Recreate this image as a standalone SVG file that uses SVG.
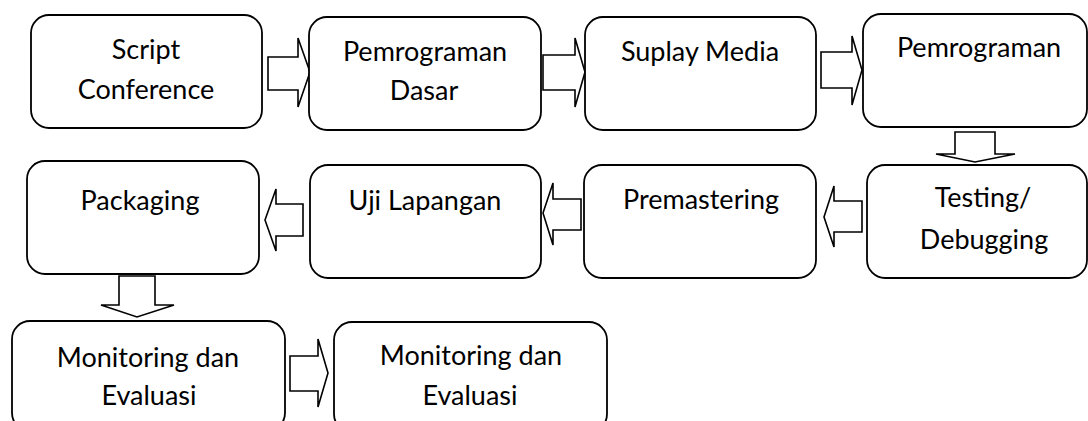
<svg xmlns="http://www.w3.org/2000/svg" width="1088" height="421" viewBox="0 0 1088 421">
<style>
.box{fill:#fff;stroke:#000;stroke-width:1.8}
.arr{fill:#fff;stroke:#000;stroke-width:1.6;stroke-linejoin:miter}
.t{font-family:Lato,"Liberation Sans",sans-serif;font-size:27px;fill:#000;text-anchor:middle}
</style>
<rect width="1088" height="421" fill="#fff"/>
<g id="connectors">
<polygon class="arr" points="268,57 298,57 298,38 310,72 298,107 298,90 268,90"/>
<polygon class="arr" points="543,55 575,55 575,38 585,72 575,107 575,90 543,90"/>
<polygon class="arr" points="821,52 852,52 852,36 862,70 852,105 852,88 821,88"/>
<polygon class="arr" points="955,132 995,132 995,154 1015,154 975,162 936,154 955,154"/>
<polygon class="arr" points="862,201 834,201 834,186 824,217 834,247 834,232 862,232"/>
<polygon class="arr" points="581,199 553,199 553,183 543,213 553,245 553,230 581,230"/>
<polygon class="arr" points="303,204 276,204 276,189 265,220 276,251 276,236 303,236"/>
<polygon class="arr" points="119,276 155,276 155,305 174,305 137,317 101,305 119,305"/>
<polygon class="arr" points="290,356 318,356 318,339 328,373 318,407 318,391 290,391"/>
</g>
<g id="n1"><rect class="box" x="31" y="15" width="231" height="113" rx="18"/><text class="t" x="146" y="59">Script</text><text class="t" x="146" y="99">Conference</text></g>
<g id="n2"><rect class="box" x="309" y="17" width="232" height="113" rx="18"/><text class="t" x="425" y="61">Pemrograman</text><text class="t" x="424" y="100">Dasar</text></g>
<g id="n3"><rect class="box" x="585" y="17" width="231" height="113" rx="18"/><text class="t" x="700" y="61">Suplay Media</text></g>
<g id="n4"><rect class="box" x="863" y="14" width="224" height="113" rx="18"/><text class="t" x="979" y="57">Pemrograman</text></g>
<g id="n5"><rect class="box" x="867" y="165" width="220" height="113" rx="18"/><text class="t" x="983" y="207">Testing/</text><text class="t" x="984" y="249">Debugging</text></g>
<g id="n6"><rect class="box" x="584" y="165" width="232" height="113" rx="18"/><text class="t" x="701" y="209">Premastering</text></g>
<g id="n7"><rect class="box" x="310" y="165" width="231" height="113" rx="18"/><text class="t" x="425" y="210">Uji Lapangan</text></g>
<g id="n8"><rect class="box" x="27" y="161" width="232" height="113" rx="18"/><text class="t" x="140" y="210">Packaging</text></g>
<g id="n9"><rect class="box" x="12" y="321" width="273" height="110" rx="18"/><text class="t" x="148" y="367">Monitoring dan</text><text class="t" x="149" y="405">Evaluasi</text></g>
<g id="n10"><rect class="box" x="334" y="322" width="273" height="110" rx="18"/><text class="t" x="471" y="365">Monitoring dan</text><text class="t" x="470" y="405">Evaluasi</text></g>
</svg>
